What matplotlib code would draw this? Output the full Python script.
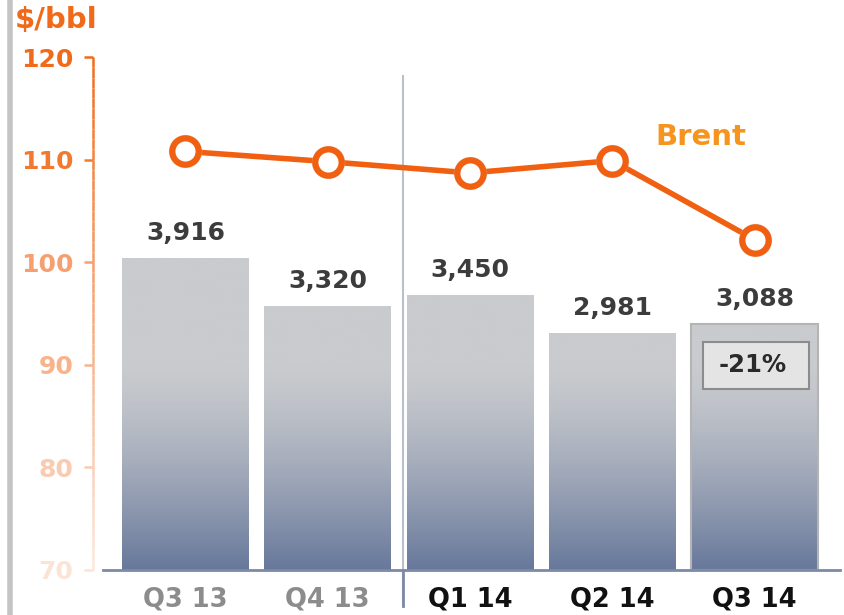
import matplotlib
matplotlib.use("Agg")
import matplotlib.pyplot as plt
import numpy as np
from matplotlib.patches import Rectangle
from matplotlib.colors import to_rgb

categories = ["Q3 13", "Q4 13", "Q1 14", "Q2 14", "Q3 14"]
volumes = [3916, 3320, 3450, 2981, 3088]
volume_labels = ["3,916", "3,320", "3,450", "2,981", "3,088"]
brent = [110.8, 109.8, 108.7, 109.9, 102.2]
yticks = [70, 80, 90, 100, 110, 120]
tick_colors = ["#fbe3d6", "#f9cbb0", "#f7b48c", "#f5a070", "#f27a30", "#f06a1a"]
xlabel_colors = ["#8c8c8c", "#8c8c8c", "#111111", "#111111", "#111111"]
change_label = "-21%"

fig = plt.figure(figsize=(8.45, 6.15), dpi=100)
fig.patch.set_facecolor("white")
ax = fig.add_axes([0.110, 0.0732, 0.884, 0.8341])
ax2 = ax.twinx()

x = np.arange(len(categories))
XL = (-0.65, 4.60)
ax.set_xlim(*XL)
ax2.set_xlim(*XL)
ax.set_ylim(0, 6440)
ax2.set_ylim(70, 120)

# gradient bars
top_c = np.array(to_rgb("#c9cbce"))
bot_c = np.array(to_rgb("#67789b"))
w = 0.89
for i, v in enumerate(volumes):
    n = 200
    ys = np.linspace(v, 0, n)
    t = np.clip((2600 - ys) / 2600, 0, 1) ** 1.4
    cols = top_c[None, :] * (1 - t[:, None]) + bot_c[None, :] * t[:, None]
    img = np.repeat(cols[:, None, :], 2, axis=1)
    ec = "#b4b4b4" if i == len(volumes) - 1 else "none"
    rect = Rectangle((x[i] - w / 2, 0), w, v, facecolor="none", edgecolor=ec, lw=1.5, zorder=3)
    ax.add_patch(rect)
    im = ax.imshow(img, extent=(x[i] - w / 2, x[i] + w / 2, 0, v), aspect="auto", zorder=2, interpolation="bilinear")
    im.set_clip_path(rect)
    ax.annotate(volume_labels[i], (x[i], v), xytext=(0, 18), textcoords="offset points",
                ha="center", va="center", fontsize=18, fontweight="bold", color="#3c3c3c", zorder=5)

# -21% box in last bar
last = len(volumes) - 1
bx0, bw = x[last] - 0.36, 0.74
by0, bh = volumes[last] - 810, 590
ax.add_patch(Rectangle((bx0, by0), bw, bh, facecolor="#e4e4e4", edgecolor="#8c8c8c", lw=1.5, zorder=4))
ax.text(x[last] - 0.01, by0 + bh / 2, change_label, ha="center", va="center", fontsize=17.5,
        fontweight="bold", color="#2a2a2a", zorder=5)

# baseline
ax.plot([-0.58, 4.60], [0, 0], color="#7d8aa5", lw=2, zorder=6, clip_on=False)
# separator
ax.plot([1.53, 1.53], [-0.07 * 6440, 6200], color="#b8c0cc", lw=1.5, zorder=1, clip_on=False)
ax.plot([1.53, 1.53], [-0.07 * 6440, 0], color="#7d8aa5", lw=2, zorder=6, clip_on=False)

# Brent line
ax2.plot(x, brent, color="#f06010", lw=4, zorder=7, solid_capstyle="round")
ax2.plot(x, brent, "o", ms=24, color="#d0d0d0", alpha=0.55, zorder=7, mec="none")
ax2.plot(x, brent, "o", ms=19, mfc="white", mec="#f06010", mew=4.5, zorder=8, lw=0)
ax2.text(3.62, 112.2, "Brent", ha="center", va="center", fontsize=21, fontweight="bold", color="#f7941d")

# axes styling
for a in (ax, ax2):
    for s in a.spines.values():
        s.set_visible(False)
ax.set_yticks([])
ax.set_xticks(x)
ax.set_xticklabels(categories, fontsize=18.5, fontweight="bold")
for lbl, c in zip(ax.get_xticklabels(), xlabel_colors):
    lbl.set_color(c)
ax.tick_params(axis="x", length=0, pad=12)

ax2.yaxis.tick_left()
ax2.set_yticks(yticks)
ax2.set_yticklabels([str(v) for v in yticks], fontsize=18, fontweight="bold")
ax2.tick_params(axis="y", length=0, pad=14, left=True, right=False)
for lbl, c in zip(ax2.get_yticklabels(), tick_colors):
    lbl.set_color(c)
# tick marks drawn in matching colors
for v, c in zip(yticks, tick_colors):
    ax2.plot([-0.715, -0.65], [v, v], color=c, lw=1.8, clip_on=False, zorder=1, solid_capstyle="butt")

# fading left spine
segs = np.linspace(70, 120, 51)
for a0, a1 in zip(segs[:-1], segs[1:]):
    f = (a0 - 70) / 50
    c = np.array(to_rgb("#fce8dc")) * (1 - f) + np.array(to_rgb("#f06a1a")) * f
    ax2.plot([-0.65, -0.65], [a0, a1], color=c, lw=1.8, clip_on=False, zorder=1, solid_capstyle="butt")

fig.text(15 / 845, 1 - 20 / 615, "$/bbl", ha="left", va="center", fontsize=21, fontweight="bold", color="#f06a1a")
# left border
fig.add_artist(plt.Line2D([10 / 845, 10 / 845], [0, 1], color="#c4c4c4", lw=4, transform=fig.transFigure))

fig.savefig("out.png", dpi=100)
